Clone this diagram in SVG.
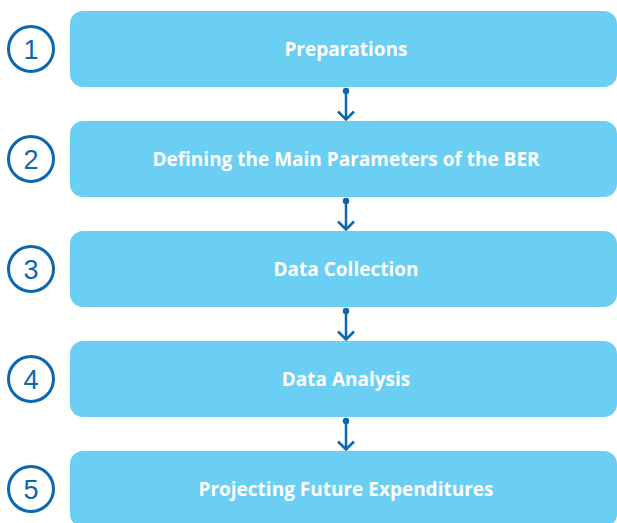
<svg xmlns="http://www.w3.org/2000/svg" width="617" height="523" viewBox="0 0 617 523">
<style>
.box{fill:#6bcef3}
.lbl{font-family:"Open Sans","Liberation Sans",sans-serif;font-weight:bold;font-size:19px;fill:#ffffff;text-anchor:middle}
.num{fill:none;stroke:#0b67b0;stroke-width:3}
.digit{font-family:"Liberation Sans",Arial,sans-serif;font-size:27px;fill:#0b67b0;text-anchor:middle}
.conn{stroke:#0b67b0;stroke-width:2.5;fill:none}
.dot{fill:#0b67b0}
</style>
<rect width="617" height="523" fill="#ffffff"/>
<g id="step1">
<rect class="box" x="70" y="11" width="547" height="76" rx="13"/>
<circle class="num" cx="31" cy="49" r="22.5"/>
<text class="digit" x="31" y="58.5">1</text>
<text class="lbl" x="346" y="55.5">Preparations</text>
</g>
<g id="step2">
<rect class="box" x="70" y="121" width="547" height="76" rx="13"/>
<circle class="num" cx="31" cy="159" r="22.5"/>
<text class="digit" x="31" y="168.5">2</text>
<text class="lbl" x="346" y="165.5">Defining the Main Parameters of the BER</text>
</g>
<g id="step3">
<rect class="box" x="70" y="231" width="547" height="76" rx="13"/>
<circle class="num" cx="31" cy="269" r="22.5"/>
<text class="digit" x="31" y="278.5">3</text>
<text class="lbl" x="346" y="275.5">Data Collection</text>
</g>
<g id="step4">
<rect class="box" x="70" y="341" width="547" height="76" rx="13"/>
<circle class="num" cx="31" cy="379" r="22.5"/>
<text class="digit" x="31" y="388.5">4</text>
<text class="lbl" x="346" y="385.5">Data Analysis</text>
</g>
<g id="step5">
<rect class="box" x="70" y="451" width="547" height="76" rx="13"/>
<circle class="num" cx="31" cy="489" r="22.5"/>
<text class="digit" x="31" y="498.5">5</text>
<text class="lbl" x="346" y="495.5">Projecting Future Expenditures</text>
</g>
<g id="connectors">
<circle class="dot" cx="346" cy="91" r="3.2"/>
<path class="conn" d="M346 91V119M338 111.5L346 119.5L354 111.5"/>
<circle class="dot" cx="346" cy="201" r="3.2"/>
<path class="conn" d="M346 201V229M338 221.5L346 229.5L354 221.5"/>
<circle class="dot" cx="346" cy="311" r="3.2"/>
<path class="conn" d="M346 311V339M338 331.5L346 339.5L354 331.5"/>
<circle class="dot" cx="346" cy="421" r="3.2"/>
<path class="conn" d="M346 421V449M338 441.5L346 449.5L354 441.5"/>
</g>
</svg>
